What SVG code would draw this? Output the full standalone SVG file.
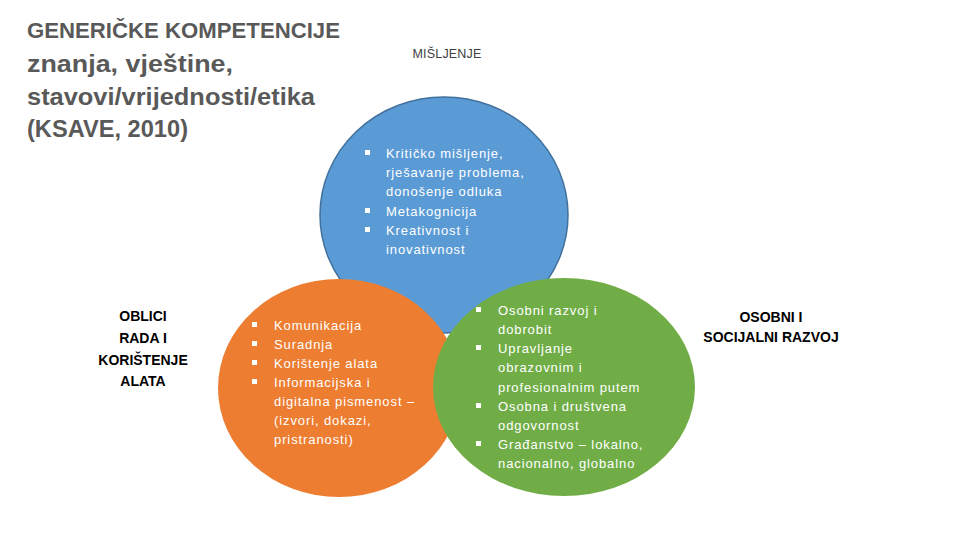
<svg xmlns="http://www.w3.org/2000/svg" width="960" height="540" viewBox="0 0 960 540">
<style>
.title{font-family:"Liberation Sans",Arial,sans-serif;font-weight:bold;fill:#595959}
.sub{font-family:"Liberation Sans",Arial,sans-serif;font-weight:bold;fill:#595959;font-size:23.5px}
.lbl{font-family:"Liberation Sans",Arial,sans-serif;font-weight:bold;fill:#000;font-size:14px;text-anchor:middle}
.head{font-family:"Liberation Sans",Arial,sans-serif;fill:#404040;font-size:12.5px;text-anchor:middle;letter-spacing:0.2px}
.item{font-family:"Liberation Sans",Arial,sans-serif;fill:#fff;font-size:13px;letter-spacing:0.9px}
.bul{fill:#fff}
</style>
<defs>
<rect id="b" x="0" y="-8" width="5" height="5" class="bul"/>
</defs>
<g id="title">
<text class="title" x="27" y="38" font-size="22" textLength="313" lengthAdjust="spacingAndGlyphs">GENERIČKE KOMPETENCIJE</text>
<text class="sub" x="27" y="72" textLength="206" lengthAdjust="spacingAndGlyphs">znanja, vještine,</text>
<text class="sub" x="27" y="105" textLength="288" lengthAdjust="spacingAndGlyphs">stavovi/vrijednosti/etika</text>
<text class="sub" x="27" y="137" textLength="161" lengthAdjust="spacingAndGlyphs">(KSAVE, 2010)</text>
</g>
<g id="node-misljenje">
<ellipse cx="444" cy="215" rx="124" ry="118" fill="#5B9BD5" stroke="#41719C" stroke-width="1.5"/>
<text class="head" x="447" y="58">MIŠLJENJE</text>
<use href="#b" x="365" y="158"/>
<text class="item" x="386" y="158">Kritičko mišljenje,</text>
<text class="item" x="386" y="177">rješavanje problema,</text>
<text class="item" x="386" y="196">donošenje odluka</text>
<use href="#b" x="365" y="216"/>
<text class="item" x="386" y="216">Metakognicija</text>
<use href="#b" x="365" y="235"/>
<text class="item" x="386" y="235">Kreativnost i</text>
<text class="item" x="386" y="254">inovativnost</text>
</g>
<g id="node-oblici">
<ellipse cx="339" cy="388" rx="121" ry="109" fill="#ED7D31"/>
<text class="lbl" x="143" y="321">OBLICI</text>
<text class="lbl" x="143" y="343">RADA I</text>
<text class="lbl" x="143" y="365">KORIŠTENJE</text>
<text class="lbl" x="143" y="386">ALATA</text>
<use href="#b" x="252" y="330"/>
<text class="item" x="274" y="330">Komunikacija</text>
<use href="#b" x="252" y="349"/>
<text class="item" x="274" y="349">Suradnja</text>
<use href="#b" x="252" y="368"/>
<text class="item" x="274" y="368">Korištenje alata</text>
<use href="#b" x="252" y="387"/>
<text class="item" x="274" y="387">Informacijska i</text>
<text class="item" x="274" y="406">digitalna pismenost –</text>
<text class="item" x="274" y="425">(izvori, dokazi,</text>
<text class="item" x="274" y="444">pristranosti)</text>
</g>
<g id="node-osobni">
<ellipse cx="564" cy="387" rx="131" ry="109" fill="#70AD47"/>
<text class="lbl" x="771" y="322">OSOBNI I</text>
<text class="lbl" x="771" y="342">SOCIJALNI RAZVOJ</text>
<use href="#b" x="476" y="315"/>
<text class="item" x="498" y="315">Osobni razvoj i</text>
<text class="item" x="498" y="334">dobrobit</text>
<use href="#b" x="476" y="353"/>
<text class="item" x="498" y="353">Upravljanje</text>
<text class="item" x="498" y="372">obrazovnim i</text>
<text class="item" x="498" y="392">profesionalnim putem</text>
<use href="#b" x="476" y="411"/>
<text class="item" x="498" y="411">Osobna i društvena</text>
<text class="item" x="498" y="430">odgovornost</text>
<use href="#b" x="476" y="449"/>
<text class="item" x="498" y="449">Građanstvo – lokalno,</text>
<text class="item" x="498" y="468">nacionalno, globalno</text>
</g>
<g id="connectors"/>
</svg>
